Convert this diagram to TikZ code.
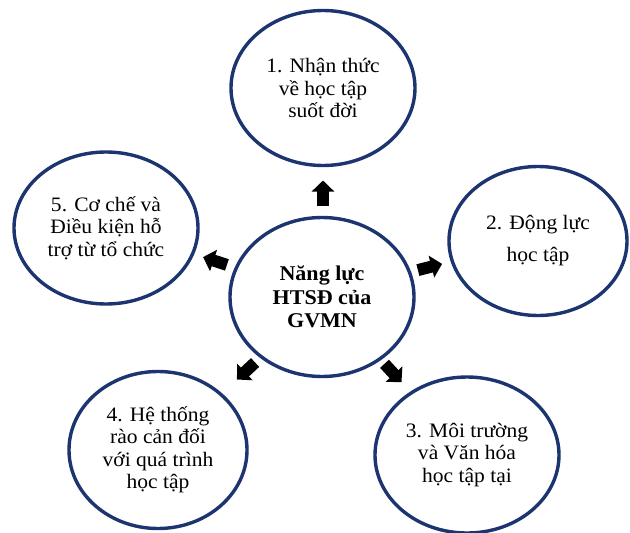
\documentclass[tikz,border=0pt]{standalone}
\usepackage{fontspec}
\setmainfont{Liberation Serif}[FakeStretch=1.05]
\usetikzlibrary{shapes.geometric,arrows.meta}
\definecolor{navy}{RGB}{28,52,112}
\begin{document}
\begin{tikzpicture}[x=1pt,y=-1pt,
  bub/.style={ellipse, draw=navy, line width=3.4pt, fill=white, inner sep=0pt,
    align=center, font=\fontsize{20.5}{22.5}\selectfont},
  blk/.style={draw=black, line width=12pt, -{Triangle[length=11pt,width=22pt]}}]
\useasboundingbox[fill=white] (0,0) rectangle (630,533);
\node[bub, minimum width=184pt, minimum height=159pt,
  font=\bfseries\fontsize{21}{23.5}\selectfont] (c) at (322,297) {Năng lực\\HTSĐ của\\GVMN};
\node[bub, minimum width=184pt, minimum height=155pt] (n1) at (323,88)
  {1. Nhận thức\\về học tập\\suốt đời};
\node[bub, minimum width=178pt, minimum height=149pt,
  font=\fontsize{20.5}{32}\selectfont] (n2) at (538,241) {2. Động lực\\học tập};
\node[bub, minimum width=184pt, minimum height=156pt] (n3) at (467,455)
  {3. Môi trường\\và Văn hóa\\học tập tại};
\node[bub, minimum width=178pt, minimum height=157pt] (n4) at (158,450)
  {4. Hệ thống\\rào cản đối\\với quá trình\\học tập};
\node[bub, minimum width=184pt, minimum height=152pt] (n5) at (106,228)
  {5. Cơ chế và\\Điều kiện hỗ\\trợ từ tổ chức};
\coordinate (a1s) at (323,205.5); \coordinate (a1e) at (323,180.5);
\coordinate (a2s) at (417.9,270.1); \coordinate (a2e) at (442.1,263.9);
\coordinate (a3s) at (384.5,363.8); \coordinate (a3e) at (401.5,382.2);
\coordinate (a4s) at (255.1,362.5); \coordinate (a4e) at (236.9,379.5);
\coordinate (a5s) at (226.9,264.9); \coordinate (a5e) at (203.1,257.1);
\draw[blk] (a1s) -- (a1e);
\draw[blk] (a2s) -- (a2e);
\draw[blk] (a3s) -- (a3e);
\draw[blk] (a4s) -- (a4e);
\draw[blk] (a5s) -- (a5e);
\end{tikzpicture}
\end{document}
